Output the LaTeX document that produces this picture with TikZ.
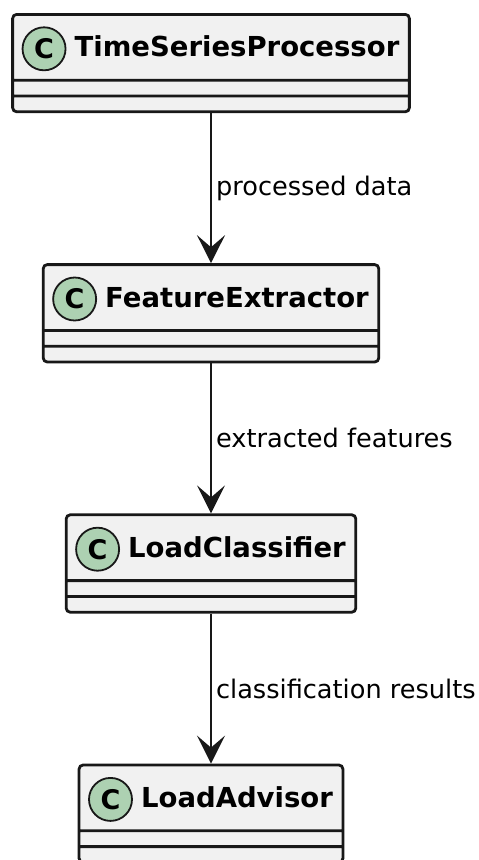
\documentclass[tikz,border=0pt]{standalone}
\usepackage{fontspec}
\setmainfont{DejaVu Sans}
\usepackage{xcolor}
\usepackage{tikz}
\usetikzlibrary{positioning,arrows.meta,shapes.multipart}

\definecolor{clsfill}{HTML}{F1F1F1}
\definecolor{clsline}{HTML}{181818}
\definecolor{spotfill}{HTML}{ADD1B2}

% class name with room for the spot on the left
\newcommand{\clsname}[1]{\hspace{52pt}\rule[-22pt]{0pt}{63pt}\textbf{#1}}

\begin{document}
\begin{tikzpicture}[x=1pt,y=1pt,
 cls/.style={rectangle split,rectangle split parts=3,draw=clsline,line width=2.8pt,
  rounded corners=4pt,fill=clsfill,inner xsep=10pt,inner ysep=0pt,
  rectangle split empty part height=13pt,rectangle split empty part depth=0pt,
  font=\fontsize{27.5}{30}\selectfont},
 spot/.style={circle,draw=clsline,line width=1.8pt,fill=spotfill,minimum size=43pt,
  inner sep=0pt,anchor=west,font=\fontsize{27}{30}\selectfont\bfseries},
 arr/.style={-{Stealth[length=28pt,width=28pt,inset=12pt]},line width=2.2pt,draw=clsline},
 lbl/.style={anchor=west,inner sep=0pt,xshift=4pt,font=\fontsize{25.6}{28}\selectfont},
 node distance=150pt]
\useasboundingbox (0,0) rectangle (479,-860);

\node[cls,anchor=north] (tsp) at (211,-13) {\clsname{TimeSeriesProcessor}\nodepart{two}\nodepart{three}};
\node[cls,below=of tsp] (fe) {\clsname{FeatureExtractor}\nodepart{two}\nodepart{three}};
\node[cls,below=of fe] (lc) {\clsname{LoadClassifier}\nodepart{two}\nodepart{three}};
\node[cls,below=of lc] (la) {\clsname{LoadAdvisor}\nodepart{two}\nodepart{three}};

% the C spots
\node[spot] (tspc) at ([xshift=-1pt,yshift=8pt]tsp.text) {C};
\node[spot] (fec) at ([xshift=-1pt,yshift=8pt]fe.text) {C};
\node[spot] (lcc) at ([xshift=-1pt,yshift=8pt]lc.text) {C};
\node[spot] (lac) at ([xshift=-1pt,yshift=8pt]la.text) {C};

\draw[arr] (tsp) -- (fe) node[lbl,midway] {processed data};
\draw[arr] (fe) -- (lc) node[lbl,midway] {extracted features};
\draw[arr] (lc) -- (la) node[lbl,midway] {classification results};
\end{tikzpicture}
\end{document}
